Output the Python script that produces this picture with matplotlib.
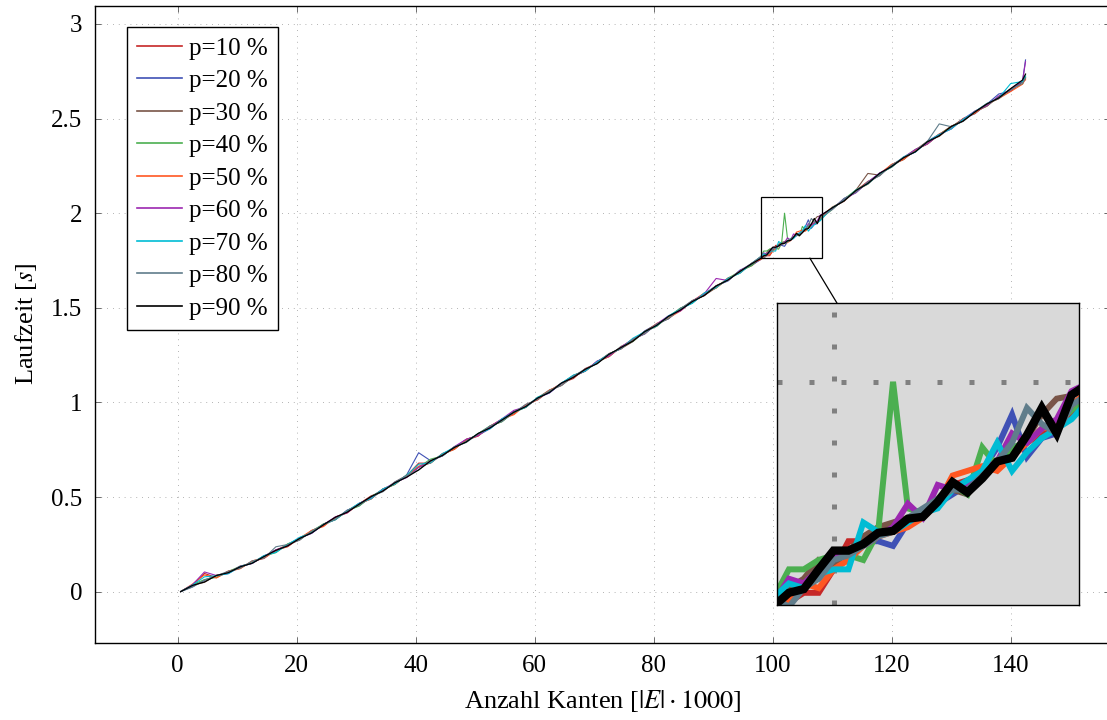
import numpy as np
import matplotlib
matplotlib.use("Agg")
import matplotlib.pyplot as plt
from matplotlib.lines import Line2D
from matplotlib.patches import Rectangle

plt.rcParams['font.family'] = ['Liberation Serif', 'DejaVu Serif']
plt.rcParams['mathtext.fontset'] = 'stix'

# ---------------- data ----------------
labels = ["p=10 %", "p=20 %", "p=30 %", "p=40 %", "p=50 %",
          "p=60 %", "p=70 %", "p=80 %", "p=90 %"]
colors = ["#c62828", "#3f51b5", "#795548", "#4caf50", "#ff5722",
          "#9c27b0", "#00bcd4", "#607d8b", "#000000"]

x_lo = np.arange(0.5, 97.0, 2.0)            # 0.5 .. 96.5
x_in = np.arange(98.0, 108.01, 0.5)         # 98 .. 108 (zoomed region)
x_hi = np.array([110, 112, 114, 116, 118, 120, 122, 124, 126, 128,
                 130, 132, 134, 136, 138, 140, 142, 142.5])

base_lo = [0.000, 0.030, 0.054, 0.080, 0.102, 0.127, 0.155, 0.183, 0.213, 0.245,
           0.279, 0.315, 0.350, 0.387, 0.423, 0.460, 0.497, 0.535, 0.572, 0.610,
           0.649, 0.686, 0.722, 0.759, 0.796, 0.830, 0.868, 0.905, 0.943, 0.981,
           1.020, 1.058, 1.096, 1.134, 1.172, 1.210, 1.249, 1.288, 1.327, 1.368,
           1.410, 1.450, 1.490, 1.530, 1.570, 1.610, 1.650, 1.690, 1.730]
base_hi = [2.025, 2.070, 2.115, 2.160, 2.205, 2.250, 2.290, 2.330, 2.372, 2.412,
           2.452, 2.492, 2.532, 2.572, 2.612, 2.650, 2.690, 2.705]

# deviations from base (in ms)
dev_lo_p10 = [0, 5, 42, -6, 7, -4, 5, -8, 6, 3,
              -6, 8, -3, 6, -7, 4, 9, -5, 7, 3,
              30, -7, 8, -5, 4, -8, 7, 5, -4, 8,
              -7, 3, 6, -8, 7, -3, 9, -6, 4, 7,
              -8, 5, -4, 8, -6, 7, -3, 5, -7]
dev_lo_p20 = [0, -4, 6, 5, -7, 4, -6, 7, -3, 5,
              4, -7, 6, -4, 8, -6, 3, 7, -5, 8,
              85, 6, -5, 4, 8, -4, -7, 5, 9, -6,
              4, -8, 7, 3, -6, 8, -7, 5, -4, 10,
              3, -7, 8, -5, 4, 6, -8, 9, -4]
dev_lo_p30 = [0, 4, -5, 7, -4, 8, -6, 3, 7, -7,
              5, -4, 8, -7, 4, 6, -8, 7, -4, 5,
              8, -6, 4, -7, 9, -4, 5, -6, 7, -8,
              4, 8, -6, 3, -7, 5, 8, -4, -6, 7,
              5, -8, 4, 7, -5, -4, 8, -7, 5]
dev_lo_p40 = [0, 6, 10, -5, 4, 7, -4, 5, -7, 8,
              -4, 5, 7, -6, 4, -8, 5, 4, -6, 7,
              9, 14, -5, 7, -4, 5, 8, -7, 4, -6,
              7, -4, 5, 9, -7, 4, -6, 8, -4, 5,
              -7, 4, 8, -5, 7, -4, 5, 4, -7]
dev_lo_p50 = [0, 10, 34, -8, 4, -6, 7, -4, 5, -7,
              4, 8, -6, 7, -4, 5, -7, 8, -5, 4,
              14, -4, 5, -7, 8, -6, 4, 7, -8, 5,
              -4, 7, -6, 8, -4, 5, -7, 4, 8, -5,
              7, -4, -7, 5, 8, -6, 4, -4, 6]
dev_lo_p60 = [0, 7, 50, 5, -4, 7, -6, 4, 8, -4,
              5, -7, 4, 8, -6, 7, -4, 5, 4, -7,
              8, 5, -4, 7, 9, -6, 4, 8, 15, -4,
              5, -7, 4, 7, -6, 8, -4, 5, 7, -6,
              4, 8, -7, 5, 4, 45, -6, 7, 4]
dev_lo_p70 = [0, 5, 24, 4, -7, 5, -4, 7, -6, 4,
              8, -4, 5, -7, 4, 7, -6, 8, -4, 5,
              24, -6, 7, 4, -4, 5, -7, 8, 4, -6,
              7, -4, 5, 10, -6, 4, 7, -4, 12, 5,
              -6, 7, 4, -6, 8, -4, 5, -7, 5]
dev_lo_p80 = [0, -6, 7, 4, 5, -4, 7, -6, 24, 4,
              -7, 5, 4, -6, 7, -4, 5, -7, 8, 4,
              -6, 7, -4, 5, -8, 4, 7, -6, 4, 8,
              -4, 5, -7, 4, 5, -6, 8, -4, 7, -6,
              4, -7, 5, 8, -4, 5, -6, 4, 6]
dev_lo_p90 = [0, 3, -3, 5, -2, 4, -5, 2, 5, -3,
              2, -5, 3, 6, -3, 2, 5, -3, 3, -5,
              -6, 5, -2, 3, -5, 6, -3, 2, 5, -3,
              3, -5, 6, -2, 3, -5, 5, 2, -3, 6,
              -3, 5, -2, 3, -5, 5, -3, 2, 3]

dev_hi_p10 = [5, -7, 4, 8, -6, 7, -4, 5, -7, 4, 8, -6, 4, -7, 5, -4, 6, 0]
dev_hi_p20 = [-4, 8, -6, 4, 7, -6, 4, -7, 8, 5, -4, 7, -6, 4, 18, -5, 8, 105]
dev_hi_p30 = [4, -6, 7, 50, -4, 5, -7, 4, 8, -6, 4, 7, -4, 5, -7, 8, 4, 10]
dev_hi_p40 = [-6, 4, 8, -4, 5, -7, 4, 7, -6, 4, 5, -4, 7, -6, 4, 5, -7, 15]
dev_hi_p50 = [7, -4, 5, -7, 4, 8, -6, 4, -4, 7, -6, 8, -4, 5, -6, -7, -8, 5]
dev_hi_p60 = [-4, 5, -7, 4, 8, -4, 5, 7, -6, 4, -7, 5, 8, -4, 7, 5, 9, 95]
dev_hi_p70 = [5, -4, 7, -6, 4, -4, 8, -6, 5, 4, -7, 4, 5, 7, -4, 35, 6, 20]
dev_hi_p80 = [-6, 7, -4, 5, -7, 4, 5, -4, 7, 60, 5, -7, 4, 8, -6, 4, -4, 10]
dev_hi_p90 = [3, -5, 5, -3, 6, -3, 3, -5, 5, -3, 6, -5, 3, 5, -3, 8, 14, 30]

# values in the zoomed region x = 98 .. 108 (step 0.5)
in_p10 = [1.760, 1.765, 1.775, 1.775, 1.800, 1.830, 1.830, 1.840, 1.845, 1.850, 1.860,
          1.875, 1.890, 1.895, 1.900, 1.910, 1.920, 1.935, 1.945, 1.950, 1.965]
in_p20 = [1.755, 1.770, 1.785, 1.790, 1.810, 1.815, 1.830, 1.830, 1.825, 1.850, 1.860,
          1.870, 1.880, 1.890, 1.905, 1.930, 1.965, 1.920, 1.940, 1.945, 1.985]
in_p30 = [1.770, 1.780, 1.790, 1.810, 1.805, 1.820, 1.835, 1.845, 1.850, 1.855, 1.860,
          1.875, 1.885, 1.880, 1.900, 1.915, 1.925, 1.940, 1.965, 1.982, 1.985]
in_p40 = [1.770, 1.800, 1.800, 1.810, 1.815, 1.815, 1.810, 1.840, 2.000, 1.865, 1.860,
          1.875, 1.890, 1.880, 1.930, 1.910, 1.930, 1.935, 1.950, 1.955, 1.970]
in_p50 = [1.755, 1.765, 1.785, 1.780, 1.800, 1.810, 1.825, 1.835, 1.840, 1.845, 1.855,
          1.870, 1.900, 1.905, 1.910, 1.905, 1.920, 1.935, 1.950, 1.955, 1.975]
in_p60 = [1.765, 1.790, 1.785, 1.800, 1.815, 1.820, 1.825, 1.835, 1.845, 1.870, 1.855,
          1.890, 1.885, 1.890, 1.905, 1.915, 1.945, 1.935, 1.950, 1.960, 1.990]
in_p70 = [1.770, 1.785, 1.780, 1.795, 1.800, 1.800, 1.850, 1.840, 1.840, 1.850, 1.860,
          1.865, 1.885, 1.895, 1.905, 1.935, 1.905, 1.925, 1.940, 1.950, 1.960]
in_p80 = [1.770, 1.760, 1.780, 1.790, 1.810, 1.815, 1.825, 1.835, 1.840, 1.855, 1.865,
          1.875, 1.885, 1.885, 1.900, 1.915, 1.935, 1.972, 1.955, 1.945, 1.975]
in_p90 = [1.761, 1.775, 1.779, 1.800, 1.820, 1.820, 1.827, 1.839, 1.841, 1.854, 1.856,
          1.872, 1.893, 1.882, 1.897, 1.915, 1.919, 1.943, 1.972, 1.945, 1.986]

dev_lo = [dev_lo_p10, dev_lo_p20, dev_lo_p30, dev_lo_p40, dev_lo_p50,
          dev_lo_p60, dev_lo_p70, dev_lo_p80, dev_lo_p90]
dev_hi = [dev_hi_p10, dev_hi_p20, dev_hi_p30, dev_hi_p40, dev_hi_p50,
          dev_hi_p60, dev_hi_p70, dev_hi_p80, dev_hi_p90]
inset_vals = [in_p10, in_p20, in_p30, in_p40, in_p50, in_p60, in_p70, in_p80, in_p90]

xticks = [0, 20, 40, 60, 80, 100, 120, 140]
yticks = [0, 0.5, 1, 1.5, 2, 2.5, 3]
ytick_labels = ["0", "0.5", "1", "1.5", "2", "2.5", "3"]

x_all = np.concatenate([x_lo, x_in, x_hi])
series = []
for dl, dh, iv in zip(dev_lo, dev_hi, inset_vals):
    y = np.concatenate([np.array(base_lo) + np.array(dl) / 1000.0,
                        np.array(iv),
                        np.array(base_hi) + np.array(dh) / 1000.0])
    series.append(y)

# ---------------- figure ----------------
W, H = 1107, 720
fig = plt.figure(figsize=(W / 100, H / 100), dpi=100)


def px_axes(l, t, r, b):
    return [l / W, 1 - b / H, (r - l) / W, (b - t) / H]


ax = fig.add_axes(px_axes(95, 6, 1110, 642.7))
for y, c, lab in zip(series, colors, labels):
    lw = 0.8 if c != "#000000" else 0.9
    ax.plot(x_all, y, color=c, lw=lw, label=lab)

ax.set_xlim(-13.9, 156.7)
ax.set_ylim(-0.27, 3.095)
ax.set_xticks(xticks)
ax.set_yticks(yticks)
ax.set_yticklabels(ytick_labels)
ax.grid(True, color="#9a9a9a", lw=0.6, linestyle=(0, (1, 6)))
ax.tick_params(direction="in", top=True, right=True, length=4, width=0.6,
               color="#555555", labelsize=18, pad=9)
for s in ax.spines.values():
    s.set_linewidth(1.0)
ax.set_xlabel(r"Anzahl Kanten [$|E|\cdot 1000$]", fontsize=19, labelpad=8)
ax.set_ylabel(r"Laufzeit [$s$]", fontsize=19, labelpad=9)

leg = ax.legend(loc="upper left", bbox_to_anchor=(0.0315, 0.967), borderaxespad=0,
                fontsize=18, frameon=True, fancybox=False, framealpha=1,
                edgecolor="black", handlelength=1.8, handletextpad=0.3,
                labelspacing=0.4, borderpad=0.4)
leg.get_frame().set_linewidth(1.0)
for h in leg.get_lines():
    h.set_linewidth(1.2)

# zoom region
zx0, zx1 = 98.1, 108.25
zy0, zy1 = 1.762, 2.084
ax.add_patch(Rectangle((zx0, zy0), zx1 - zx0, zy1 - zy0, fill=False,
                       ec="black", lw=0.9, zorder=6))

# inset (magnified copy)
il, it, ir, ib = 777, 303, 1079, 605
axins = fig.add_axes(px_axes(il, it, ir, ib))
axins.set_facecolor("#d9d9d9")
for y, c in zip(series, colors):
    lw = 4.3 if c != "#000000" else 6.0
    axins.plot(x_all, y, color=c, lw=lw, solid_joinstyle="miter")
axins.set_xlim(zx0, zx1)
axins.set_ylim(zy0, zy1)
axins.set_xticks([100])
axins.set_yticks([2])
axins.tick_params(length=0, labelbottom=False, labelleft=False)
axins.grid(True, color="#808080", lw=3.6, linestyle=(0, (1, 5.4)))
axins.set_axisbelow(True)
for s in axins.spines.values():
    s.set_linewidth(1.0)

# connector line between centres, clipped at the boxes
fig.canvas.draw()
p0 = ax.transData.transform((zx0, zy0))
p1 = ax.transData.transform((zx1, zy1))
rc = (p0 + p1) / 2
rbottom = p0[1]
bb = axins.get_window_extent()
ic = np.array([(bb.x0 + bb.x1) / 2, (bb.y0 + bb.y1) / 2])
d = ic - rc
t0 = (rbottom - rc[1]) / d[1]
t1 = (bb.y1 - rc[1]) / d[1]
a = rc + t0 * d
b = rc + t1 * d
fig.add_artist(Line2D([a[0] / W, b[0] / W], [a[1] / H, b[1] / H],
                      color="black", lw=0.9, transform=fig.transFigure))

fig.savefig("out.png", dpi=100)
